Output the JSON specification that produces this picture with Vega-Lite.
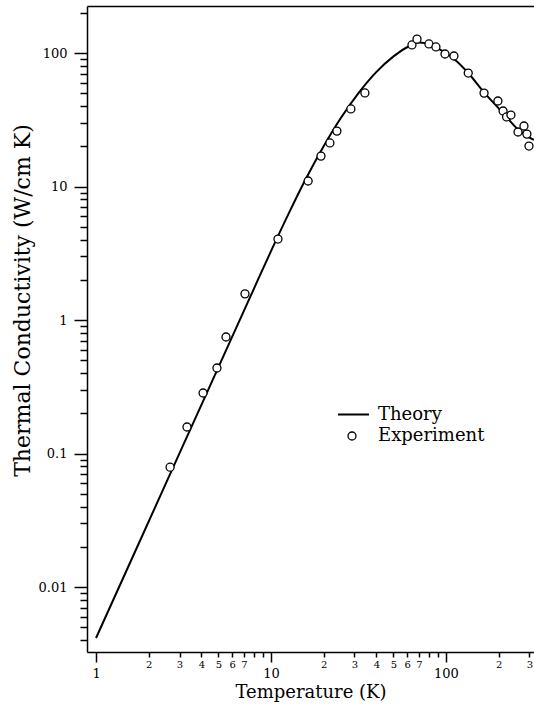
{
  "$schema": "https://vega.github.io/schema/vega-lite/v6.json",
  "width": 447,
  "height": 646,
  "autosize": {"type": "none"},
  "padding": {"left": 87, "top": 6, "right": 0, "bottom": 52},
  "background": "white",
  "config": {"view": {"stroke": null}, "font": "DejaVu Serif"},
  "datasets": {
    "theory": [
      {"T": 1, "K": 0.00415, "model": "Theory"},
      {"T": 1.778, "K": 0.02203, "model": "Theory"},
      {"T": 3.162, "K": 0.1169, "model": "Theory"},
      {"T": 5.623, "K": 0.6209, "model": "Theory"},
      {"T": 7.943, "K": 1.69, "model": "Theory"},
      {"T": 10, "K": 3.281, "model": "Theory"},
      {"T": 12.59, "K": 6.237, "model": "Theory"},
      {"T": 15.85, "K": 11.48, "model": "Theory"},
      {"T": 19.95, "K": 19.95, "model": "Theory"},
      {"T": 25.12, "K": 32.73, "model": "Theory"},
      {"T": 31.62, "K": 50.12, "model": "Theory"},
      {"T": 39.81, "K": 71.61, "model": "Theory"},
      {"T": 50.12, "K": 94.41, "model": "Theory"},
      {"T": 63.1, "K": 114.8, "model": "Theory"},
      {"T": 66.83, "K": 118.9, "model": "Theory"},
      {"T": 70.79, "K": 120.0, "model": "Theory"},
      {"T": 75.86, "K": 118.6, "model": "Theory"},
      {"T": 83.18, "K": 114.3, "model": "Theory"},
      {"T": 92.47, "K": 105.9, "model": "Theory"},
      {"T": 100, "K": 100, "model": "Theory"},
      {"T": 112.5, "K": 89.13, "model": "Theory"},
      {"T": 133.7, "K": 71.12, "model": "Theory"},
      {"T": 164.8, "K": 50.7, "model": "Theory"},
      {"T": 195.4, "K": 39.81, "model": "Theory"},
      {"T": 225.9, "K": 32.21, "model": "Theory"},
      {"T": 257.6, "K": 26.79, "model": "Theory"},
      {"T": 302.0, "K": 23.17, "model": "Theory"},
      {"T": 318.4, "K": 22.39, "model": "Theory"}
    ],
    "experiment": [
      {"T": 2.65, "K": 0.079, "kind": "Experiment"},
      {"T": 3.31, "K": 0.158, "kind": "Experiment"},
      {"T": 4.09, "K": 0.284, "kind": "Experiment"},
      {"T": 4.91, "K": 0.437, "kind": "Experiment"},
      {"T": 5.53, "K": 0.746, "kind": "Experiment"},
      {"T": 7.1, "K": 1.57, "kind": "Experiment"},
      {"T": 10.96, "K": 4.04, "kind": "Experiment"},
      {"T": 16.3, "K": 11.0, "kind": "Experiment"},
      {"T": 19.3, "K": 16.9, "kind": "Experiment"},
      {"T": 21.7, "K": 21.2, "kind": "Experiment"},
      {"T": 23.8, "K": 26.0, "kind": "Experiment"},
      {"T": 28.6, "K": 38.1, "kind": "Experiment"},
      {"T": 34.4, "K": 50.2, "kind": "Experiment"},
      {"T": 63.9, "K": 115, "kind": "Experiment"},
      {"T": 68.3, "K": 127, "kind": "Experiment"},
      {"T": 79.9, "K": 117, "kind": "Experiment"},
      {"T": 87.6, "K": 111, "kind": "Experiment"},
      {"T": 98.7, "K": 98.3, "kind": "Experiment"},
      {"T": 111, "K": 95.0, "kind": "Experiment"},
      {"T": 134, "K": 70.8, "kind": "Experiment"},
      {"T": 165, "K": 50.1, "kind": "Experiment"},
      {"T": 198, "K": 43.7, "kind": "Experiment"},
      {"T": 212, "K": 36.8, "kind": "Experiment"},
      {"T": 222, "K": 33.2, "kind": "Experiment"},
      {"T": 235, "K": 34.3, "kind": "Experiment"},
      {"T": 258, "K": 25.6, "kind": "Experiment"},
      {"T": 279, "K": 28.4, "kind": "Experiment"},
      {"T": 290, "K": 24.7, "kind": "Experiment"},
      {"T": 298, "K": 20.1, "kind": "Experiment"}
    ]
  },
  "encoding": {
    "y": {
      "field": "K",
      "type": "quantitative",
      "scale": {"type": "log", "domain": [0.00326, 225], "nice": false, "zero": false},
      "axis": {
        "values": [0.004, 0.005, 0.006, 0.007, 0.008, 0.009, 0.01, 0.02, 0.03, 0.04, 0.05, 0.06, 0.07, 0.08, 0.09, 0.1, 0.2, 0.3, 0.4, 0.5, 0.6, 0.7, 0.8, 0.9, 1, 2, 3, 4, 5, 6, 7, 8, 9, 10, 20, 30, 40, 50, 60, 70, 80, 90, 100, 200],
        "grid": false,
        "domainColor": "black",
        "domainWidth": 1.5,
        "tickColor": "black",
        "tickWidth": 1.5,
        "tickSize": {"condition": {"test": "datum.value == 0.01 || datum.value == 0.1 || datum.value == 1 || datum.value == 10 || datum.value == 100", "value": 13}, "value": 7},
        "labelExpr": "(datum.value == 0.01 || datum.value == 0.1 || datum.value == 1 || datum.value == 10 || datum.value == 100) ? datum.value + '' : ''",
        "labelFont": "DejaVu Serif",
        "labelFontSize": 13,
        "labelPadding": 7,
        "labelColor": "black",
        "labelOverlap": false,
        "labelFlush": false,
        "labelBound": false,
        "title": "Thermal Conductivity (W/cm K)",
        "titleFont": "DejaVu Serif",
        "titleFontSize": 22,
        "titleFontWeight": "normal",
        "titleColor": "black",
        "titlePadding": 4,
        "titleY": 294
      }
    }
  },
  "layer": [
    {
      "data": {"name": "theory"},
      "mark": {"type": "line", "color": "black", "strokeWidth": 2, "interpolate": "monotone"},
      "encoding": {
        "x": {
          "field": "T",
          "type": "quantitative",
          "scale": {"type": "log", "domain": [0.888, 318.4], "nice": false, "zero": false},
          "axis": {
            "orient": "bottom",
            "values": [1, 2, 3, 4, 5, 6, 7, 8, 9, 10, 20, 30, 40, 50, 60, 70, 80, 90, 100, 200, 300],
            "grid": false,
            "domainColor": "black",
            "domainWidth": 1.5,
            "tickColor": "black",
            "tickWidth": 1.5,
            "tickSize": {"condition": {"test": "datum.value == 1 || datum.value == 10 || datum.value == 100", "value": 10}, "value": 5},
            "labelExpr": "(datum.value == 8 || datum.value == 9 || datum.value == 80 || datum.value == 90) ? '' : ((datum.value == 1 || datum.value == 10 || datum.value == 100) ? datum.value + '' : substring(datum.value + '', 0, 1))",
            "labelFont": "DejaVu Serif",
            "labelFontSize": {"condition": {"test": "datum.value == 1 || datum.value == 10 || datum.value == 100", "value": 13}, "value": 10},
            "labelPadding": {"condition": {"test": "datum.value == 1 || datum.value == 10 || datum.value == 100", "value": 5}, "value": 2},
            "labelColor": "black",
            "labelOverlap": false,
            "labelFlush": false,
            "labelBound": false,
            "title": "Temperature (K)",
            "titleFont": "DejaVu Serif",
            "titleFontSize": 18,
            "titleFontWeight": "normal",
            "titleColor": "black",
            "titlePadding": 3
          }
        },
        "color": {
          "field": "model",
          "type": "nominal",
          "scale": {"range": ["black"]},
          "legend": {
            "title": null,
            "orient": "none",
            "legendX": 250,
            "legendY": 392,
            "symbolType": "stroke",
            "symbolSize": 961,
            "symbolStrokeWidth": 2,
            "symbolStrokeColor": "black",
            "labelFont": "DejaVu Serif",
            "labelFontSize": 18,
            "labelColor": "black",
            "labelOffset": 8,
            "padding": 0
          }
        }
      }
    },
    {
      "data": {"name": "experiment"},
      "mark": {"type": "point", "shape": "circle", "filled": false, "fill": "white", "fillOpacity": 1, "strokeWidth": 1.3, "size": 64, "opacity": 1},
      "encoding": {
        "x": {
          "field": "T",
          "type": "quantitative",
          "scale": {"type": "log", "domain": [0.888, 318.4], "nice": false, "zero": false},
          "axis": {
            "orient": "top",
            "grid": false,
            "domainColor": "black",
            "domainWidth": 1.5,
            "ticks": false,
            "labels": false,
            "title": null
          }
        },
        "stroke": {
          "field": "kind",
          "type": "nominal",
          "scale": {"range": ["#000000"]},
          "legend": {
            "title": null,
            "orient": "none",
            "legendX": 256,
            "legendY": 421,
            "symbolType": "circle",
            "symbolSize": 64,
            "symbolFillColor": "white",
            "symbolStrokeWidth": 1.3,
            "symbolOpacity": 1,
            "labelFont": "DejaVu Serif",
            "labelFontSize": 18,
            "labelColor": "black",
            "labelOffset": 17,
            "padding": 0
          }
        }
      }
    }
  ],
  "resolve": {"axis": {"x": "independent"}}
}
